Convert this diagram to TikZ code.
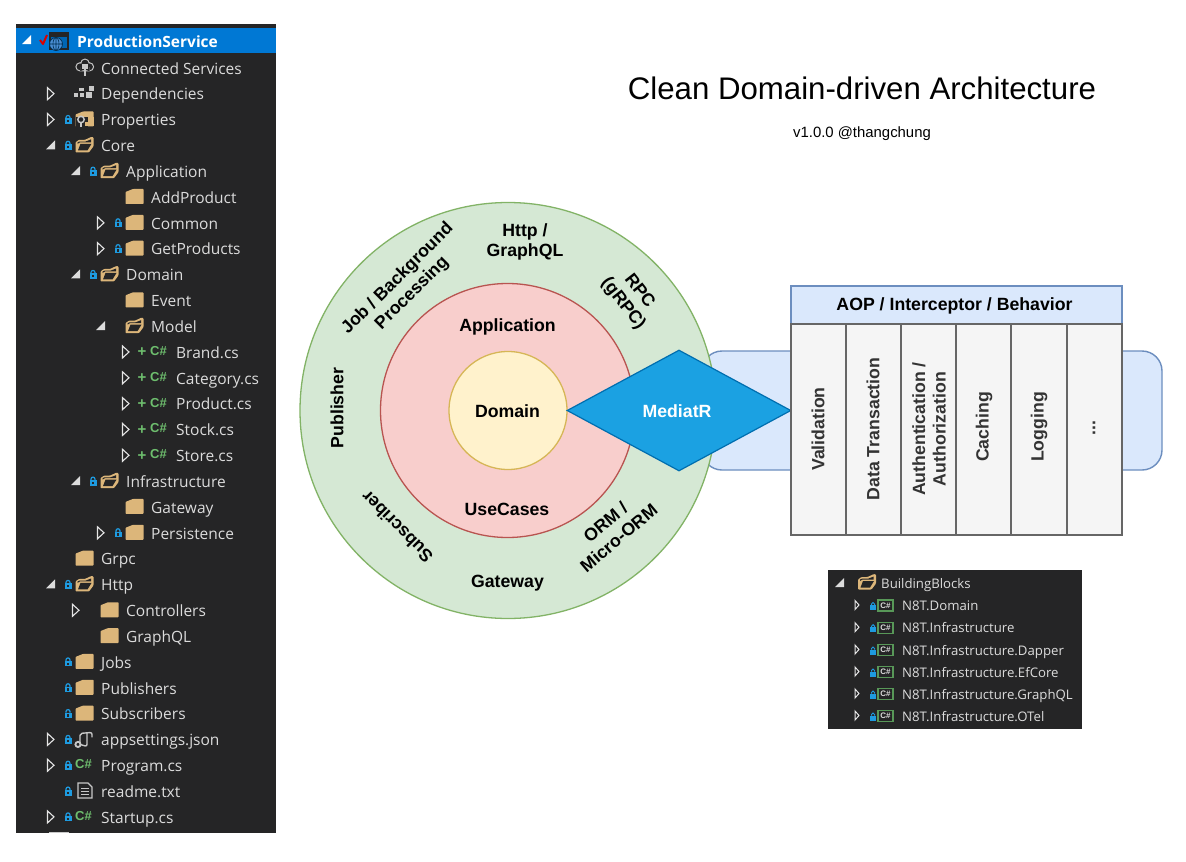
\documentclass[tikz,border=0pt]{standalone}
\usepackage{fontspec}
\usetikzlibrary{shapes.geometric}
\setmainfont{Liberation Sans}
\newfontfamily\treefont{Open Sans}
\definecolor{panel}{HTML}{252526}
\definecolor{selblue}{HTML}{0078D4}
\definecolor{treetxt}{HTML}{DCDCDC}
\definecolor{foldertan}{HTML}{DCB67A}
\definecolor{lockblue}{HTML}{1E9BE0}
\definecolor{csgreen}{HTML}{6EBE6E}
\definecolor{iconGrey}{HTML}{C8C8C8}
\definecolor{myrect}{HTML}{6C8EBF}
\definecolor{fillrect}{HTML}{DAE8FC}
\definecolor{ringg}{HTML}{82B366}
\definecolor{fillg}{HTML}{D5E8D4}
\definecolor{ringr}{HTML}{B85450}
\definecolor{fillr}{HTML}{F8CECC}
\definecolor{ringy}{HTML}{D6B656}
\definecolor{filly}{HTML}{FFF2CC}
\definecolor{diamd}{HTML}{006EAF}
\definecolor{diamf}{HTML}{1BA1E2}
\newcounter{ic}
\tikzset{
  treetext/.style={text=treetxt,font=\treefont\fontsize{15.5}{18}\selectfont,inner sep=0pt,anchor=base west},
  bbtext/.style={text=treetxt,font=\treefont\fontsize{13.2}{15}\selectfont,inner sep=0pt,anchor=base west},
  lbl/.style={font=\bfseries\fontsize{17.7}{20.5}\selectfont,align=center,inner sep=0pt,text=black},
  collbl/.style={lbl,rotate=90,text=black!80},
  colbox/.style={draw=black!60,fill=black!4,line width=1.8pt},
  ring/.style={circle,line width=1.3pt,inner sep=0pt},
}
% icons are drawn relative to the left end of the text on the row
\newcommand\Ae{\fill[treetxt] (-46,-5) -- (-46,4) -- (-55,4) -- cycle;}
\newcommand\Ac{\draw[white!90!black,line width=1.1pt] (-53.5,-6) -- (-53.5,6) -- (-47,0) -- cycle;}
\newcommand\Lk{\fill[lockblue] (-36.5,-1) rectangle (-29.5,4.5);
  \draw[lockblue,line width=1.2pt] (-35,-1) -- (-35,-2) arc[start angle=180,end angle=360,radius=2] -- (-31,-1);
  \fill[panel] (-33.6,0.6) rectangle (-32.4,3);}
\newcommand\Fc{\fill[foldertan,rounded corners=0.7pt] (-25.5,7) -- (-25.5,-5) -- (-18,-8) -- (-7.5,-8) -- (-7.5,7) -- cycle;}
\newcommand\Fo{\fill[foldertan,rounded corners=0.8pt] (-25.5,7) -- (-25.5,-3) -- (-22,-5.5) -- (-16,-5.5) -- (-9.5,-8.5) -- (-7.5,-8) -- (-7.5,1) -- (-12,7) -- cycle;
  \fill[panel] (-23,5) -- (-20.5,-1.5) -- (-9.5,-1.5) -- (-13.5,5) -- cycle;
  \fill[panel] (-23.5,-1.5) -- (-23.5,-3) -- (-21.5,-3.8) -- (-15.5,-3.8) -- (-9.8,-6) -- (-9.8,-3) -- (-21,-3) -- cycle;}
\newcommand\Fw{\Fc \fill[panel] (-25.5,-2) rectangle (-13,8);
  \draw[iconGrey,line width=1.5pt] (-20,0) circle[radius=3.2];
  \draw[iconGrey,line width=2pt] (-20,3) -- (-20,8);
  \fill[foldertan] (-13,-2) rectangle (-7.5,7);\fill[foldertan] (-16,3) rectangle (-13,7);}
\newcommand\Cs{\stepcounter{ic}\node[name=ic\arabic{ic},text=csgreen,font=\bfseries\fontsize{13}{13}\selectfont,inner sep=0pt,anchor=east] at (-9,-1) {C\#};}
\newcommand\Pl{\stepcounter{ic}\node[name=ic\arabic{ic},text=csgreen,font=\bfseries\fontsize{15}{16}\selectfont,inner sep=0pt] at (-34,0.5) {+};}
\newcommand\Cl{\fill[iconGrey] (-21,-1) circle[radius=4.6] (-16,-4.5) circle[radius=4.8] (-11.5,-1) circle[radius=4.6] (-21,-1) rectangle (-11.5,3.6);
  \fill[panel] (-21,-1) circle[radius=3.4] (-16,-4.5) circle[radius=3.6] (-11.5,-1) circle[radius=3.4] (-21,-1) rectangle (-11.5,2.4);
  \fill[iconGrey] (-19,-4) rectangle (-13.5,1.5); \fill[iconGrey] (-17,1.5) rectangle (-15.5,8);}
\newcommand\De{\fill[iconGrey] (-27,-1) rectangle (-23,3); \fill[iconGrey] (-21,-1) rectangle (-17,3);
  \fill[iconGrey] (-22,-6) rectangle (-17,-3); \fill[iconGrey] (-12,-8) rectangle (-7,-3); \fill[iconGrey] (-15,-2) rectangle (-9,4);}
\newcommand\St{\draw[iconGrey,line width=1.4pt,rounded corners=2pt] (-21,5) -- (-21,-6) -- (-9,-7) -- (-9,-2);
  \draw[iconGrey,line width=1.4pt,rounded corners=2pt] (-21,5) -- (-14,7) -- (-14,-6.5);
  \draw[iconGrey,line width=1.8pt] (-23,5) circle[radius=2.6];}
\newcommand\Tx{\draw[iconGrey,line width=1.2pt,fill=panel] (-23,-8) -- (-13,-8) -- (-9,-4) -- (-9,7) -- (-23,7) -- cycle;
  \foreach \ly in {-3,0,3} {\draw[iconGrey,line width=1pt] (-20,\ly) -- (-12,\ly);}}
\newcommand\Row[4]{\pgfmathsetmacro\ry{42+25.83*#1}\begin{scope}[shift={(#2,\ry)}]#3\node[treetext,name=row#1] at (0,6.3) {#4};\end{scope}}
\newcommand\BB[3]{\begin{scope}[shift={(902,#2)}]
  \draw[white!90!black,line width=1pt] (-47,-5) -- (-47,4) -- (-43,-0.5) -- cycle;
  \fill[lockblue] (-32,-0.5) rectangle (-26,4.5);
  \draw[lockblue,line width=1pt] (-30.5,-0.5) -- (-30.5,-1.5) arc[start angle=180,end angle=360,radius=1.5] -- (-27.5,-0.5);
  \draw[csgreen!80!black,line width=1.3pt] (-24,-5.5) rectangle (-9,5.5);
  \node[name=bbc#1,text=treetxt,font=\bfseries\fontsize{8}{8}\selectfont,inner sep=0pt] at (-16.5,0) {C\#};
  \node[bbtext,name=bb#1] at (0,5) {#3};\end{scope}}
\begin{document}
\begin{tikzpicture}[x=1pt,y=-1pt]
\useasboundingbox (0,0) rectangle (1186,862);
\fill[white] (0,0) rectangle (1186,862);
% solution tree panel
\fill[panel] (16,24) rectangle (276,833);
\fill[selblue] (16,28) rectangle (276,53);
\fill[iconGrey] (49,832) rectangle (69,833);
% project row
\fill[white] (31,35) -- (31,44) -- (22,44) -- cycle;
\draw[red!85!black,line width=2pt,line join=round] (40,40) -- (43,44) -- (47,35);
\fill[panel] (49,32) rectangle (69,50);
\fill[selblue!85!black] (51,37) rectangle (67,48);
\fill[cyan!55!blue!75!white] (56,44) circle[radius=6.5];
\draw[selblue!40!black,line width=.7pt] (56,44) circle[radius=6.5] (49.5,44) -- (62.5,44) (56,37.5) -- (56,50.5);
\draw[selblue!40!black,line width=.6pt] (56,44) ellipse[x radius=3,y radius=6.5];
\node[name=project,text=white,font=\treefont\bfseries\fontsize{15.5}{18}\selectfont,inner sep=0pt,anchor=base west] at (77,47.5) {ProductionService};
\Row{1}{101}{\Cl}{Connected Services}
\Row{2}{101}{\Ac\De}{Dependencies}
\Row{3}{101}{\Ac\Lk\Fw}{Properties}
\Row{4}{101}{\Ae\Lk\Fo}{Core}
\Row{5}{126}{\Ae\Lk\Fo}{Application}
\Row{6}{151}{\Fc}{AddProduct}
\Row{7}{151}{\Ac\Lk\Fc}{Common}
\Row{8}{151}{\Ac\Lk\Fc}{GetProducts}
\Row{9}{126}{\Ae\Lk\Fo}{Domain}
\Row{10}{151}{\Fc}{Event}
\Row{11}{151}{\Ae\Fo}{Model}
\Row{12}{176}{\Ac\Pl\Cs}{Brand.cs}
\Row{13}{176}{\Ac\Pl\Cs}{Category.cs}
\Row{14}{176}{\Ac\Pl\Cs}{Product.cs}
\Row{15}{176}{\Ac\Pl\Cs}{Stock.cs}
\Row{16}{176}{\Ac\Pl\Cs}{Store.cs}
\Row{17}{126}{\Ae\Lk\Fo}{Infrastructure}
\Row{18}{151}{\Fc}{Gateway}
\Row{19}{151}{\Ac\Lk\Fc}{Persistence}
\Row{20}{101}{\Fc}{Grpc}
\Row{21}{101}{\Ae\Lk\Fo}{Http}
\Row{22}{126}{\Ac\Fc}{Controllers}
\Row{23}{126}{\Fc}{GraphQL}
\Row{24}{101}{\Lk\Fc}{Jobs}
\Row{25}{101}{\Lk\Fc}{Publishers}
\Row{26}{101}{\Lk\Fc}{Subscribers}
\Row{27}{101}{\Ac\Lk\St}{appsettings.json}
\Row{28}{101}{\Ac\Lk\Cs}{Program.cs}
\Row{29}{101}{\Lk\Tx}{readme.txt}
\Row{30}{101}{\Ac\Lk\Cs}{Startup.cs}
% title
\node[name=title,font=\fontsize{31.2}{34}\selectfont,inner sep=0pt] at (862,88) {Clean Domain-driven Architecture};
\node[name=subtitle,font=\fontsize{14.9}{17}\selectfont,inner sep=0pt] at (862,134) {v1.0.0 @thangchung};
% pipeline
\draw[draw=myrect,fill=fillrect,line width=1.4pt,rounded corners=20pt] (702,351) rectangle (1162,470);
\node[ring,draw=ringg,fill=fillg,minimum size=416pt,name=outer] at (508,410.5) {};
\node[ring,draw=ringr,fill=fillr,minimum size=254pt,name=middle] at (507.5,410.5) {};
\node[ring,draw=ringy,fill=filly,minimum size=118pt,name=inner] at (508,410.5) {};
\node[diamond,draw=diamd,fill=diamf,line width=1.2pt,minimum width=224pt,minimum height=121pt,aspect=1.85,inner sep=0pt,name=mediatr] at (679,410.5) {};
\node[lbl,text=white,name=mediatrt] at (677,411) {MediatR};
\node[lbl,name=domain] at (507.5,411) {Domain};
\node[lbl,name=application] at (507.5,327) {Application};
\node[lbl,name=usecases] at (507,509) {UseCases};
\node[lbl,name=http] at (525,242) {Http /\\GraphQL};
\node[lbl,rotate=-52,name=rpc] at (631,297.5) {RPC\\(gRPC)};
\node[lbl,rotate=45,name=job] at (405,286) {Job / Background\\Processing};
\node[lbl,rotate=90,name=publisher] at (337,408) {Publisher};
\node[lbl,rotate=135,name=subscriber] at (397,527) {Subscriber};
\node[lbl,name=gateway] at (507.5,583.5) {Gateway};
\node[lbl,rotate=40,name=orm] at (612,530) {ORM /\\Micro-ORM};
% aop table
\node[draw=myrect,fill=fillrect,line width=1.4pt,minimum width=331pt,minimum height=38pt,inner sep=0pt,name=aop] at (956.5,305) {};
\node[lbl,name=aopt] at (954.5,305.5) {AOP / Interceptor / Behavior};
\draw[colbox] (791,324) rectangle (1122,535);
\foreach \cx in {846,901,956,1011,1067} {\draw[colbox] (\cx,324) -- (\cx,535);}
\node[collbl,name=c1] at (818,429) {Validation};
\node[collbl,name=c2] at (873,429) {Data Transaction};
\node[collbl,name=c3] at (929,429) {Authentication /\\Authorization};
\node[collbl,name=c4] at (984,427) {Caching};
\node[collbl,name=c5] at (1039,427) {Logging};
\node[collbl,name=c6] at (1094,428) {...};
% building blocks
\fill[panel] (828,570) rectangle (1082,729);
\fill[treetxt] (844,578) -- (844,587) -- (835,587) -- cycle;
\begin{scope}[shift={(883.5,582.5)}]\Fo\end{scope}
\node[bbtext,name=bbhead] at (881,588) {BuildingBlocks};
\BB{1}{605.5}{N8T.Domain}
\BB{2}{627.7}{N8T.Infrastructure}
\BB{3}{650}{N8T.Infrastructure.Dapper}
\BB{4}{672}{N8T.Infrastructure.EfCore}
\BB{5}{694}{N8T.Infrastructure.GraphQL}
\BB{6}{716}{N8T.Infrastructure.OTel}
\end{tikzpicture}
\end{document}
